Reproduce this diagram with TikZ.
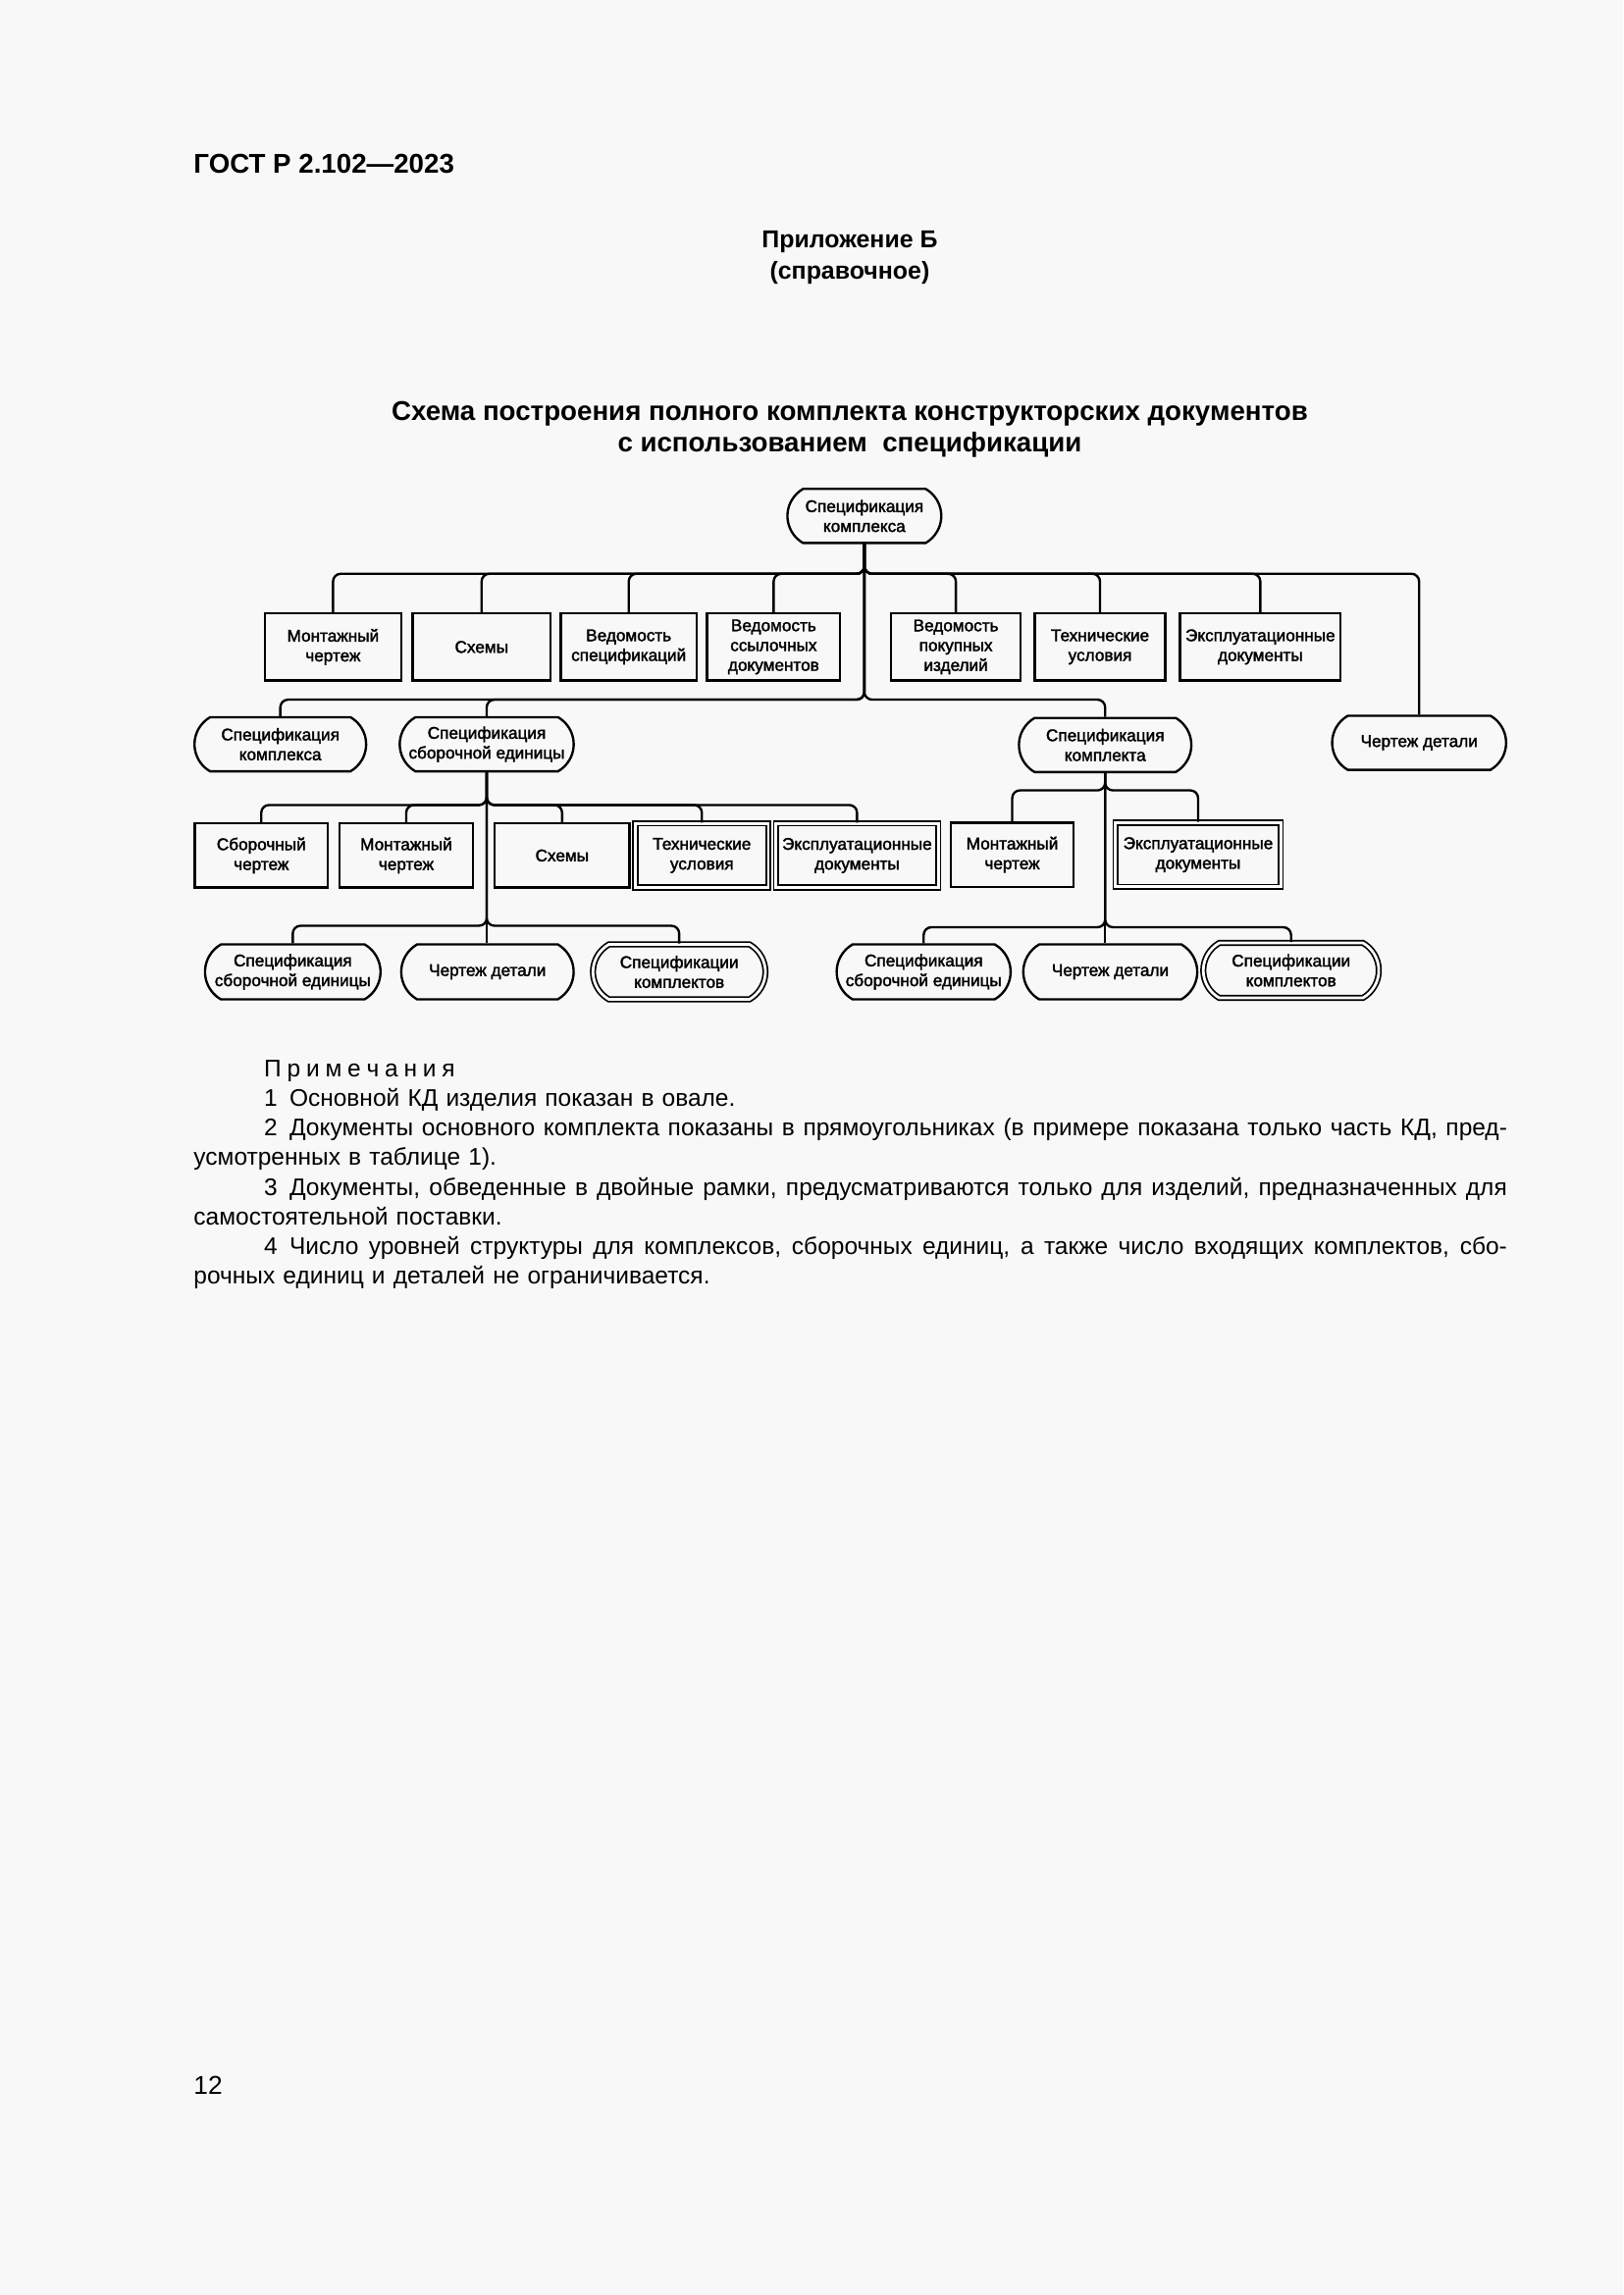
\documentclass[tikz,border=0pt]{standalone}
\usepackage{fontspec}
\setmainfont{Liberation Sans}
\newfontfamily\boxfont[FakeBold=2]{Liberation Sans}
\usetikzlibrary{shapes.misc}
\definecolor{paper}{RGB}{248,248,248}
\newcommand\lsp{\kern2.1pt}
\newcommand\jline[1]{\makebox[160.8mm][s]{\spaceskip=.3333em plus .3em minus .1em\relax #1}}
\tikzset{
  box/.style={draw, line width=0.3mm, rectangle, inner sep=0pt, align=center,
    minimum height=8.7mm, font=\boxfont\fontsize{6.2}{7.3}\selectfont},
  dbox/.style={box, double, double distance=0.35mm, line width=0.22mm},
  oval/.style={draw, line width=0.3mm, rounded rectangle, rounded rectangle arc length=120,
    inner sep=0pt, align=center, minimum height=7mm, minimum width=22.4mm,
    font=\boxfont\fontsize{6.2}{7.3}\selectfont},
  doval/.style={oval, double, double distance=0.35mm, line width=0.22mm},
  link/.style={line width=0.3mm, rounded corners=1mm},
}
\begin{document}
\begin{tikzpicture}[x=0.18936mm, y=-0.18936mm]
  \fill[paper] (0,0) rectangle (1109,1568);
  \useasboundingbox (0,0) rectangle (1109,1568);

  % page texts
  \node[anchor=base west, inner sep=0, font=\bfseries\fontsize{10}{12}\selectfont] (gost) at (132,118) {ГОСТ Р 2.102—2023};
  \node[anchor=base, inner sep=0, font=\bfseries\fontsize{9}{12}\selectfont] (app) at (580.5,169) {Приложение Б};
  \node[anchor=base, inner sep=0, font=\bfseries\fontsize{9}{12}\selectfont] (ref) at (580.5,191) {(справочное)};
  \node[anchor=base, inner sep=0, font=\bfseries\fontsize{10}{12}\selectfont] (title1) at (580.5,287) {Схема построения полного комплекта конструкторских документов};
  \node[anchor=base, inner sep=0, font=\bfseries\fontsize{10}{12}\selectfont] (title2) at (580.5,309) {с использованием\ \ спецификации};

  % level 0
  \node[oval, minimum width=19.9mm] (root) at (590.5,352.5) {Спецификация\\комплекса};

  % level 1
  \node[box, minimum width=17.6mm] (mch) at (227.5,442) {Монтажный\\чертеж};
  \node[box, minimum width=17.8mm] (sch) at (329,442) {Схемы};
  \node[box, minimum width=17.6mm] (vsp) at (429.5,442) {Ведомость\\спецификаций};
  \node[box, minimum width=17.2mm] (vss) at (528.5,442) {Ведомость\\ссылочных\\документов};
  \node[box, minimum width=16.7mm] (vpi) at (653,442) {Ведомость\\покупных\\изделий};
  \node[box, minimum width=16.9mm] (tu) at (751.5,442) {Технические\\условия};
  \node[box, minimum width=20.8mm] (ed) at (861,442) {Эксплуатационные\\документы};

  % level 2
  \node[oval, minimum width=22.2mm] (spk) at (191.5,508.5) {Спецификация\\комплекса};
  \node[oval, minimum width=22.5mm] (sse) at (332.5,508.5) {Спецификация\\сборочной единицы};
  \node[oval, minimum width=22.3mm] (skt) at (755,509) {Спецификация\\комплекта};
  \node[oval, minimum width=22.5mm] (chd) at (969.5,507.5) {Чертеж детали};

  % level 3
  \node[box, minimum height=8.3mm, minimum width=17.2mm] (sbch) at (178.5,584.5) {Сборочный\\чертеж};
  \node[box, minimum height=8.3mm, minimum width=17.2mm] (mch2) at (277.5,584.5) {Монтажный\\чертеж};
  \node[box, minimum height=8.3mm, minimum width=17.4mm] (sch2) at (384,584.5) {Схемы};
  \node[dbox, minimum height=8.3mm, minimum width=17.2mm] (tu2) at (479.5,584.5) {Технические\\условия};
  \node[dbox, minimum height=8.3mm, minimum width=21mm] (ed2) at (585.5,584.5) {Эксплуатационные\\документы};
  \node[box, minimum height=8.3mm, minimum width=15.9mm] (mch3) at (691.5,584) {Монтажный\\чертеж};
  \node[dbox, minimum height=8.3mm, minimum width=21.4mm] (ed3) at (818.5,584) {Эксплуатационные\\документы};

  % level 4
  \node[oval, minimum height=7.1mm, minimum width=22.7mm] (sse2) at (200,664) {Спецификация\\сборочной единицы};
  \node[oval, minimum height=7.1mm, minimum width=22.3mm] (chd2) at (333,664) {Чертеж детали};
  \node[doval, minimum height=7.1mm, minimum width=22.3mm] (skts2) at (464,664) {Спецификации\\комплектов};
  \node[oval, minimum height=7.1mm, minimum width=22.5mm] (sse3) at (631,664) {Спецификация\\сборочной единицы};
  \node[oval, minimum height=7.1mm, minimum width=22.5mm] (chd3) at (758.5,664) {Чертеж детали};
  \node[doval, minimum height=7.1mm, minimum width=22.7mm] (skts3) at (882,663) {Спецификации\\комплектов};

  % bus levels
  \coordinate (b1) at (0,392);
  \coordinate (b2) at (0,478);
  \coordinate (b3) at (0,550);
  \coordinate (b3r) at (0,540);
  \coordinate (b4) at (0,632.5);
  \coordinate (b4r) at (0,633.5);

  \begin{scope}[link]
    \draw (root.south) |- (mch.north |- b1) -- (mch.north);
    \draw (root.south) |- (sch.north |- b1) -- (sch.north);
    \draw (root.south) |- (vsp.north |- b1) -- (vsp.north);
    \draw (root.south) |- (vss.north |- b1) -- (vss.north);
    \draw (root.south) |- (vpi.north |- b1) -- (vpi.north);
    \draw (root.south) |- (tu.north |- b1) -- (tu.north);
    \draw (root.south) |- (ed.north |- b1) -- (ed.north);
    \draw (root.south) |- (chd.north |- b1) -- (chd.north);
    \draw (root.south) |- (spk.north |- b2) -- (spk.north);
    \draw (root.south) |- (sse.north |- b2) -- (sse.north);
    \draw (root.south) |- (skt.north |- b2) -- (skt.north);

    \draw (sse.south) |- (sbch.north |- b3) -- (sbch.north);
    \draw (sse.south) |- (mch2.north |- b3) -- (mch2.north);
    \draw (sse.south) |- (sch2.north |- b3) -- (sch2.north);
    \draw (sse.south) |- (tu2.north |- b3) -- (tu2.north);
    \draw (sse.south) |- (ed2.north |- b3) -- (ed2.north);
    \draw (sse.south) |- (sse2.north |- b4) -- (sse2.north);
    \draw (sse.south) -- (sse.south |- chd2.north);
    \draw (sse.south) |- (skts2.north |- b4) -- (skts2.north);

    \draw (skt.south) |- (mch3.north |- b3r) -- (mch3.north);
    \draw (skt.south) |- (ed3.north |- b3r) -- (ed3.north);
    \draw (skt.south) |- (sse3.north |- b4r) -- (sse3.north);
    \draw (skt.south) -- (skt.south |- chd3.north);
    \draw (skt.south) |- (skts3.north |- b4r) -- (skts3.north);
  \end{scope}

  % notes
  \node[anchor=north west, inner sep=0, text width=169.9mm, align=left,
    font=\fontsize{8.85}{10.9}\selectfont] (notes) at (132,724) {%
    \hspace*{9.1mm}П\lsp р\lsp и\lsp м\lsp е\lsp ч\lsp а\lsp н\lsp и\lsp я\\
    \hspace*{9.1mm}1\enspace Основной КД изделия показан в овале.\\
    \hspace*{9.1mm}\jline{2\enspace Документы основного комплекта показаны в прямоугольниках (в примере показана только часть КД, пред-}\\
    усмотренных в таблице 1).\\
    \hspace*{9.1mm}\jline{3\enspace Документы, обведенные в двойные рамки, предусматриваются только для изделий, предназначенных для}\\
    самостоятельной поставки.\\
    \hspace*{9.1mm}\jline{4\enspace Число уровней структуры для комплексов, сборочных единиц, а также число входящих комплектов, сбо-}\\
    рочных единиц и деталей не ограничивается.};

  \node[anchor=base west, inner sep=0, font=\fontsize{9.5}{12}\selectfont] (page) at (132,1431) {12};
\end{tikzpicture}
\end{document}
